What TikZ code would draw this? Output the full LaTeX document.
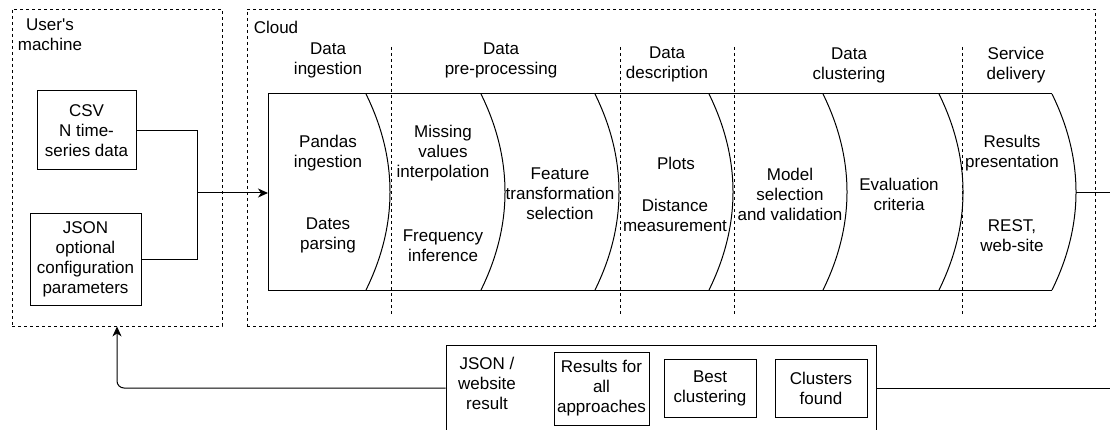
\documentclass[tikz,border=0pt]{standalone}
\usepackage{fontspec}
\setmainfont{Liberation Sans}
\usetikzlibrary{arrows.meta}
\begin{document}
\begin{tikzpicture}[x=1pt,y=-1pt,
  line width=1pt,
  txt/.style={font=\fontsize{17}{20}\selectfont, align=center, inner sep=0pt},
  solidbox/.style={txt, draw, line width=1pt},
  dashbox/.style={draw, line width=0.9pt, dash pattern=on 3pt off 3pt, inner sep=0pt},
  phasesep/.style={line width=0.9pt, dash pattern=on 3pt off 3pt},
  stage/.style={line width=1pt},
  arrowline/.style={-{Stealth[length=10pt,width=9pt,inset=3pt]}, line width=1pt}]
\useasboundingbox (0,0) rectangle (1110,430);
\clip (0,0) rectangle (1110,430);

% outer dashed regions
\node[dashbox, minimum width=210pt, minimum height=317pt] (user) at (117,167.5) {};
\node[dashbox, minimum width=848pt, minimum height=317pt] (cloud) at (671,167.5) {};
\node[txt] (userlbl) at (50,34.5) {User\textquotesingle s\\machine};
\node[txt] (cloudlbl) at (276,27) {Cloud};

% input boxes
\node[solidbox, minimum width=99pt, minimum height=79pt] (csv) at (86.5,130.5) {CSV\\N time-\\series data};
\node[solidbox, minimum width=111pt, minimum height=91pt] (json) at (85.5,259.5) {JSON\\optional\\configuration\\parameters};

\coordinate (join) at (197,193);
\coordinate (procin) at (268,193);
\draw (csv.east) -| (join);
\draw (json.east) -| (join);
\draw[arrowline] (join) -- (procin);

% phase separators
\foreach \x in {391,620,734,962}
  \draw[phasesep] (\x,47) -- (\x,315);

% process band
\draw[stage] (268,94) -- (1052,94);
\draw[stage] (268,290) -- (1052,290);
\draw[stage] (268,94) -- (268,290);
\foreach \x in {366,481,595,709,823,939,1052}
  \draw[stage] (\x,94) .. controls (\x+32,159) and (\x+32,225) .. (\x,290);

% phase labels
\node[txt] (ph1) at (328,60) {Data\\ingestion};
\node[txt] (ph2) at (501,60) {Data\\pre-processing};
\node[txt] (ph3) at (667,64.5) {Data\\description};
\node[txt] (ph4) at (849,65) {Data\\clustering};
\node[txt] (ph5) at (1016,65) {Service\\delivery};

% step texts
\node[txt] (t1a) at (328,153) {Pandas\\ingestion};
\node[txt] (t1b) at (328,235) {Dates\\parsing};
\node[txt] (t2a) at (443,153) {Missing\\values\\interpolation};
\node[txt] (t2b) at (443,246) {Frequency\\inference};
\node[txt] (t3) at (560,194) {Feature\\transformation\\selection};
\node[txt] (t4a) at (676,163) {Plots};
\node[txt] (t4b) at (675,215) {Distance\\measurement};
\node[txt] (t5) at (790,194) {Model\\selection\\and validation};
\node[txt] (t6) at (899,194) {Evaluation\\criteria};
\node[txt] (t7a) at (1012,153) {Results\\presentation};
\node[txt] (t7b) at (1012,236) {REST,\\web-site};

% feedback box
\node[draw, line width=1pt, minimum width=430pt, minimum height=86pt, inner sep=0pt] (fb) at (661,388) {};
\node[txt] (fblbl) at (487,383) {JSON /\\website\\result};
\node[solidbox, minimum width=95pt, minimum height=73pt] (res) at (601.5,388.5) {Results for\\all\\approaches};
\node[solidbox, minimum width=92pt, minimum height=58pt] (best) at (710,388) {Best\\clustering};
\node[solidbox, minimum width=92pt, minimum height=58pt] (clus) at (821,388) {Clusters\\found};

% connectors
\coordinate (out) at (1076,193);
\coordinate (corner) at (1130,388);
\draw (out) -| (corner) -- (fb.east);
\draw[arrowline, rounded corners=7pt] (fb.west) -| (user.south);
\end{tikzpicture}
\end{document}
